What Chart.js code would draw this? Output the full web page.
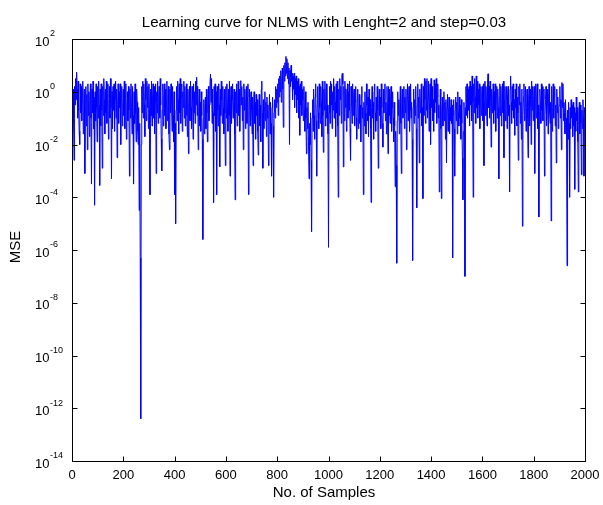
<!DOCTYPE html>
<html><head><meta charset="utf-8">
<script src="https://cdn.jsdelivr.net/npm/chart.js@4/dist/chart.umd.min.js"></script>
<style>html,body{margin:0;padding:0;background:#fff;}#wrap{width:603px;height:505px;}</style>
</head><body><div id="wrap"><canvas id="c" width="603" height="505"></canvas></div>
<script>
const chartTitle = 'Learning curve for NLMS with Lenght=2 and step=0.03';
const xAxisTitle = 'No. of Samples';
const yAxisTitle = 'MSE';
const sampleStep = 2;
// log10(MSE), one value every 2 samples (0..2000)
const mseLog10 = [
0.3,-0.6,0.1,-1.2,-2.6,0.2,-0.5,0.5,-0.3,0.74,
0.1,-1.0,0.4,-0.7,-1.5,-2.0,0.3,-0.8,0.2,-1.1,
-0.2,0.4,-1.6,-0.4,0.1,-3.1,-0.6,0.2,-1.3,-0.1,
-2.2,0.3,-0.9,0.0,-1.7,-0.3,0.3,-1.0,-3.5,0.1,
-0.8,0.4,-1.4,-0.2,-4.3,0.0,-1.1,0.3,-0.6,-1.9,
0.2,-1.0,0.4,-0.5,-3.55,0.1,-1.3,0.3,-0.7,-2.9,
0.2,-0.9,0.5,-0.3,-1.6,0.1,-0.8,0.4,-1.2,-0.2,
0.3,-1.8,-0.4,0.2,-1.0,0.5,-0.6,-3.3,0.0,-1.4,
0.2,-0.7,0.3,-1.5,-0.3,0.4,-1.0,0.1,-2.5,-0.5,
0.3,-1.2,0.0,-0.6,0.3,-2.0,-0.2,0.2,-1.3,-0.4,
0.1,-0.9,0.4,-1.4,-0.2,0.3,-1.8,-0.5,0.0,-1.1,
0.2,-0.7,-3.2,0.1,-1.0,0.3,-0.6,-1.6,0.2,-0.9,
-3.5,0.0,-1.2,0.3,-0.8,-1.9,0.1,-0.4,-1.5,-2.0,
-0.6,-4.5,-1.2,-6.3,-12.4,-2.0,0.2,-0.8,0.4,-1.0,
0.3,-0.5,-1.7,0.5,-0.3,-1.1,0.4,-0.6,0.2,-1.4,
0.3,-0.7,-3.9,0.1,-0.9,0.4,-1.3,-0.2,0.3,-1.0,
0.2,-1.6,-0.4,0.3,-3.1,0.0,-0.8,0.4,-1.2,-0.1,
0.2,-1.0,0.5,-0.5,-1.8,-3.0,-0.7,0.3,-1.3,-0.2,
0.3,-0.9,0.1,-1.4,-0.3,0.4,-1.1,-0.5,0.2,-1.6,
-2.2,0.1,-0.8,0.3,-0.4,-1.5,0.2,-0.9,-1.9,0.0,
-3.9,-1.2,-5.0,-0.7,0.2,-1.1,0.4,-0.3,-1.6,0.3,
-0.8,0.5,-1.2,-0.2,0.3,-1.5,0.0,-0.6,0.4,-1.0,
0.2,-1.3,-0.4,0.3,-0.9,-1.7,0.1,-2.35,-0.5,0.2,
-1.1,0.4,-0.6,-1.4,0.2,-0.3,-1.8,0.3,-0.8,0.0,
-1.2,0.4,-0.5,0.55,-0.9,0.2,-2.2,-0.6,0.1,-1.3,
-0.4,-1.5,0.0,-0.9,-1.8,-5.6,-1.0,-0.3,-1.6,-0.7,
-0.2,-1.4,0.1,-0.8,-1.9,-0.3,0.2,-1.1,-0.5,0.3,
0.67,-0.4,0.5,-1.2,0.1,-0.8,-4.2,0.2,-0.9,0.3,
-1.5,0.0,-3.9,0.2,-0.7,-1.3,0.3,-0.5,-2.85,0.1,
-0.9,0.4,-0.3,-1.2,0.2,-0.6,-1.6,0.1,-0.8,-2.8,
0.2,-1.0,0.3,-0.6,-1.5,0.1,-0.9,0.4,-3.2,-0.4,
0.2,-1.2,-0.3,0.3,-1.0,-0.5,0.1,-1.6,-4.1,0.0,
-0.8,0.3,-1.3,-0.2,0.4,-0.9,0.1,-1.5,-0.3,0.42,
-0.5,0.2,-1.1,-0.2,-2.2,0.3,-0.7,0.1,-1.4,-0.4,
0.2,-1.2,-0.2,0.3,-3.9,-0.6,0.1,-1.3,-0.4,0.0,
-0.7,-1.6,-0.2,-2.8,-0.5,0.0,-1.2,-0.4,-1.8,-0.1,
-0.9,-0.3,-1.5,-2.4,-0.6,-0.1,-1.3,-0.5,-1.9,0.1,
0.4,-0.8,-2.9,-0.3,-1.4,-0.6,0.0,-1.1,-0.4,-1.7,
-0.2,-1.0,-0.5,-2.8,-0.9,-0.1,-1.6,-0.4,-1.2,-3.2,
-0.6,-0.2,-1.3,-4.0,-0.8,-0.3,-1.0,0.2,-0.6,0.1,
-0.4,0.3,-0.9,0.5,-0.2,0.6,0.0,0.8,-0.4,0.5,
0.9,0.1,-1.35,1.0,0.4,1.1,0.6,1.34,0.7,1.25,
0.5,1.1,0.3,0.9,-2.0,0.8,0.2,1.0,0.4,0.7,
-0.3,0.6,0.1,0.7,-0.6,0.5,-0.1,0.6,-0.8,0.4,
-0.3,0.5,-1.0,0.2,-1.65,0.3,-0.5,0.4,-0.9,0.1,
-0.3,-1.1,0.2,-0.7,-1.5,0.0,-1.0,-2.35,-0.6,-1.4,
-0.4,-1.9,-3.3,-1.2,-2.0,-0.8,-2.6,-5.3,-1.0,-0.3,
-1.5,0.1,-0.9,-1.8,-0.2,0.3,-1.1,-3.2,-0.5,0.2,
-0.8,-1.4,0.3,-0.6,-1.2,0.2,-0.4,-1.7,0.4,-0.9,
-2.3,0.1,-0.7,0.4,-1.3,-0.2,0.3,-1.0,-0.5,-1.6,
-5.9,-0.8,0.2,-1.2,0.4,-0.5,0.3,-1.4,0.0,-0.7,
0.5,-1.0,0.2,-0.4,-1.7,0.3,-0.8,0.4,-1.3,-4.0,
0.1,-0.9,0.5,-0.3,0.2,-1.2,0.6,0.7,0.3,-2.85,
0.2,-1.1,0.4,-0.6,0.1,-1.5,-0.2,0.3,-1.0,0.0,
-0.7,0.4,-1.4,-2.6,0.2,-0.5,-1.2,0.3,-0.9,-0.2,
0.1,-1.3,-0.4,0.2,-1.0,-1.8,-0.3,0.1,-1.4,-0.6,
-0.1,-1.2,-0.5,-1.9,-0.2,0.2,-1.0,-0.6,-3.9,-0.4,
-1.3,0.0,-0.8,-1.6,0.3,-0.5,-1.1,-0.2,-1.7,0.1,
-0.9,-0.3,-1.4,-4.2,-0.6,0.2,-1.0,-0.4,-1.8,0.0,
0.3,-0.8,-1.5,-0.2,-1.1,0.2,-0.7,-2.9,-0.3,0.1,
-0.9,-0.2,-1.4,0.3,-0.6,-1.2,-2.1,0.1,-0.8,-0.3,
0.3,-1.1,-0.4,-1.6,0.2,-0.7,-2.35,0.2,-0.9,0.1,
-1.2,-0.3,0.2,-1.5,-0.6,0.0,-1.0,-1.9,-0.4,-1.3,
-3.6,-1.5,-2.8,-6.5,-1.1,0.0,-0.9,-0.3,-1.6,-0.5,
0.2,-1.2,-3.1,-0.4,0.1,-1.0,-0.6,0.2,-1.4,-0.2,
-0.8,0.1,-2.2,-0.5,0.3,-1.1,-0.3,0.2,-1.5,-0.7,
0.3,-1.0,-0.4,-1.8,-6.4,-0.6,0.1,-1.2,-0.3,-0.9,
0.2,-1.4,-4.4,-0.5,0.3,-1.0,-0.2,-2.7,0.1,-0.8,
-0.4,0.3,-1.3,-0.6,-4.05,0.2,-0.9,0.5,-0.3,-1.2,
0.4,-0.7,0.5,-1.0,-0.2,0.4,-1.5,-0.4,0.3,-2.0,
0.5,-0.6,0.2,-1.1,-0.3,-1.5,0.45,-0.8,0.3,-0.4,
0.5,-1.2,-0.2,0.3,-1.0,-0.5,-3.8,-0.9,0.1,-1.4,
-4.05,-0.7,-0.2,-1.3,-0.5,0.0,-1.1,-0.4,-1.8,-0.3,
-2.7,-0.6,-0.1,-1.5,-0.8,-0.2,-1.6,-0.6,-1.1,-0.3,
-1.2,-0.5,-6.3,-0.9,-0.3,-1.4,-3.2,-0.7,-0.2,-1.1,
-0.4,-1.6,0.0,-0.8,-1.3,-0.2,-1.0,-0.5,-1.8,-0.3,
-1.2,-2.5,-4.1,-1.5,-0.4,-1.0,-7.0,-0.6,0.2,-0.9,
0.3,-1.0,0.1,-0.7,0.2,-1.3,0.4,-0.5,0.2,-1.1,
0.6,-0.4,-4.0,0.3,-0.8,0.5,-0.2,-1.2,0.6,-0.6,
0.4,-1.0,0.1,-0.5,0.3,-1.4,-0.3,0.2,-0.9,-0.1,
0.2,-1.1,0.3,-2.8,-0.4,0.4,-0.9,0.2,-0.5,-1.3,
0.3,0.68,-0.6,0.2,-1.0,0.4,-0.3,-2.1,0.1,-0.8,
-0.4,0.3,-1.2,0.0,-0.7,0.3,-1.5,-0.2,0.2,-1.0,
0.1,-0.6,-3.3,-0.2,0.3,-0.9,0.2,-1.3,-0.4,0.3,
-0.8,0.4,-2.5,-0.3,0.2,-1.1,-0.5,0.2,-1.4,-0.2,
0.2,-0.9,-0.5,-3.8,0.1,0.6,-0.4,-1.2,0.2,-0.7,
0.3,-1.0,-0.3,-1.65,0.1,-0.6,0.3,-1.3,-0.2,-0.8,
-2.6,0.2,-0.5,0.3,-1.2,-0.4,-1.8,0.1,-5.1,-0.9,
-0.2,0.3,-1.1,-0.4,0.2,-1.5,-0.6,0.1,-1.0,-2.5,
-0.3,0.2,-1.3,-0.5,0.1,-2.0,0.4,-0.7,0.2,-1.1,
-0.3,0.2,-3.1,-0.6,0.3,-1.0,-0.2,0.3,-1.4,-0.5,
-4.75,-0.8,0.1,-0.4,-1.2,0.3,-0.7,0.2,-1.1,-0.3,
0.1,-3.2,-0.9,-0.3,0.2,-1.3,-0.5,0.1,-1.6,-0.2,
0.3,-0.8,-1.2,-0.4,-4.9,0.2,-1.5,-0.6,0.3,-1.0,
-0.2,0.2,-1.3,-0.5,-2.7,0.1,-0.8,-0.2,-1.4,-0.6,
-0.5,0.2,-1.0,-0.3,-2.2,0.35,-0.6,0.3,-1.1,-0.4,
-0.8,-1.6,-0.3,-1.0,-1.5,-6.6,-0.7,-1.8,-0.4,-1.2,
-4.0,-0.6,-1.4,-0.3,-1.0,-0.5,-1.7,-0.4,-1.3,-0.6,
-3.7,-0.8,-1.5,-0.2,-1.1,-0.6,-1.9,-3.8,-0.9,-0.4,
-1.6,-0.5,-1.2,-3.15,-0.7,-1.4,-0.3,-1.0,-3.2,-0.6,
-0.8
];
const xTickValues = [0,200,400,600,800,1000,1200,1400,1600,1800,2000];
const yTickExponents = [2,0,-2,-4,-6,-8,-10,-12,-14];

const FONT = '"Liberation Sans", Arial, sans-serif';
const points = mseLog10.map((e, i) => ({x: i * sampleStep, y: Math.pow(10, e)}));

const framePlugin = {
  id: 'frame',
  afterDraw(chart) {
    const {ctx, chartArea: a, scales: {x, y}} = chart;
    ctx.save();
    ctx.strokeStyle = '#000';
    ctx.lineWidth = 1;
    const L = Math.round(a.left) + 0.5, R = Math.round(a.right) + 0.5;
    const T = Math.round(a.top) + 0.5, B = Math.round(a.bottom) + 0.5;
    ctx.beginPath();
    ctx.rect(L, T, R - L, B - T);
    xTickValues.forEach(v => {
      const px = Math.round(x.getPixelForValue(v)) + 0.5;
      ctx.moveTo(px, B); ctx.lineTo(px, B - 5);
      ctx.moveTo(px, T); ctx.lineTo(px, T + 5);
    });
    yTickExponents.forEach(e => {
      const py = Math.round(y.getPixelForValue(Math.pow(10, e))) + 0.5;
      ctx.moveTo(L, py); ctx.lineTo(L + 5, py);
      ctx.moveTo(R, py); ctx.lineTo(R - 5, py);
    });
    ctx.stroke();
    ctx.fillStyle = '#000';
    ctx.textAlign = 'left';
    ctx.textBaseline = 'middle';
    yTickExponents.forEach(e => {
      const py = y.getPixelForValue(Math.pow(10, e));
      ctx.font = '13px ' + FONT;
      ctx.fillText('10', 35, py + 3);
      const w = ctx.measureText('10').width;
      ctx.font = '9px ' + FONT;
      ctx.fillText(String(e), 35 + w + 0.5, py - 5);
    });
    // titles
    const cx = 324;
    ctx.font = '15px ' + FONT;
    ctx.textAlign = 'center';
    ctx.textBaseline = 'alphabetic';
    ctx.fillText(chartTitle, cx, 27);
    ctx.fillText(xAxisTitle, cx, 497);
    ctx.translate(16, 247);
    ctx.rotate(-Math.PI / 2);
    ctx.textBaseline = 'middle';
    ctx.fillText(yAxisTitle, 0, 0);
    ctx.restore();
  }
};

new Chart(document.getElementById('c'), {
  type: 'line',
  data: {
    datasets: [{
      label: 'MSE',
      data: points,
      borderColor: '#0000ff',
      borderWidth: 1,
      pointRadius: 0,
      tension: 0,
      fill: false
    }]
  },
  options: {
    responsive: false,
    animation: false,
    devicePixelRatio: 1,
    layout: {padding: {left: 0, right: 18, top: 39, bottom: 0}},
    plugins: {
      legend: {display: false},
      tooltip: {enabled: false},
      title: {display: false}
    },
    scales: {
      x: {
        type: 'linear',
        min: 0, max: 2000,
        afterBuildTicks: s => { s.ticks = xTickValues.map(v => ({value: v})); },
        afterFit: s => { s.height = 44; s.paddingLeft = 0; s.paddingRight = 0; },
        grid: {display: false, drawTicks: false},
        border: {display: false},
        ticks: {
          color: '#000', font: {family: FONT, size: 13},
          padding: 7, autoSkip: false, maxRotation: 0, minRotation: 0,
          callback: v => String(v)
        }
      },
      y: {
        type: 'logarithmic',
        min: 1e-14, max: 1e2,
        afterBuildTicks: s => { s.ticks = yTickExponents.map(e => ({value: Math.pow(10, e)})); },
        afterFit: s => { s.width = 72; s.paddingTop = 0; s.paddingBottom = 0; },
        grid: {display: false, drawTicks: false},
        border: {display: false},
        ticks: {display: false}
      }
    }
  },
  plugins: [framePlugin]
});
</script>
</body></html>
